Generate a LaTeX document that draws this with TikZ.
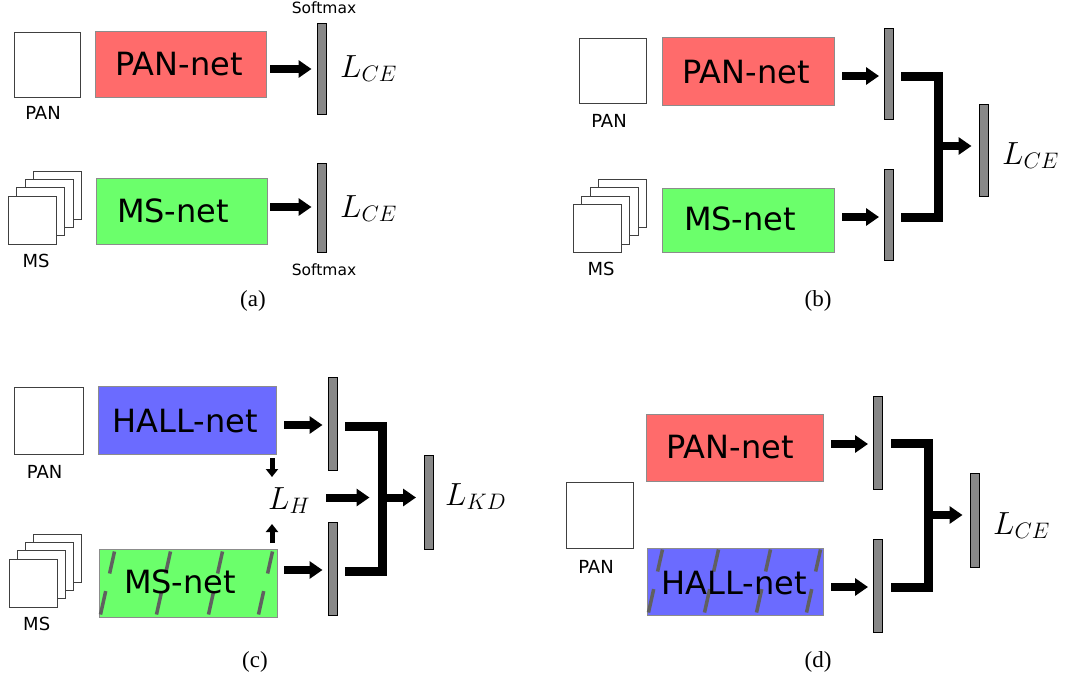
\RequirePackage{fix-cm}
\documentclass[tikz,border=0pt]{standalone}
\usepackage{fontspec}
\setmainfont{DejaVu Sans}
\newfontfamily\capfont{Liberation Serif}
\usetikzlibrary{arrows.meta}
\definecolor{pred}{HTML}{FF6B6B}
\definecolor{pgreen}{HTML}{6BFF6B}
\definecolor{pblue}{HTML}{6B6BFF}
\definecolor{boxborder}{HTML}{8C8C8C}
\definecolor{barfill}{HTML}{888888}
\definecolor{hatchcol}{HTML}{606060}
\tikzset{
  net/.style={rectangle, draw=boxborder, line width=1pt, inner sep=0pt},
  netlbl/.style={font=\fontsize{32}{38}\selectfont, inner sep=0pt},
  smalllbl/.style={font=\fontsize{18}{22}\selectfont, inner sep=0pt},
  softlbl/.style={font=\fontsize{15.5}{18}\selectfont, inner sep=0pt},
  mathlbl/.style={font=\fontsize{32}{38}\selectfont, inner sep=0pt, anchor=base west},
  barbox/.style={rectangle, draw=black, fill=barfill, line width=1pt, inner sep=0pt, minimum width=9pt},
  imgbox/.style={rectangle, draw=black!75, fill=white, line width=1pt, inner sep=0pt},
  fatarrow/.style={line width=8pt, -{Triangle[length=13pt,width=17pt]}},
  smallarrow/.style={line width=5pt, -{Triangle[length=8pt,width=12pt]}},
  joinline/.style={line width=9pt},
  hatchline/.style={draw=hatchcol, line width=3.5pt, dash pattern=on 24pt off 18pt},
  caplbl/.style={font=\capfont\fontsize{23}{27}\selectfont, inner sep=0pt}
}
\newcommand\msstack[3]{%
  \foreach \k in {3,2,1,0}{\node[imgbox, minimum width=48pt, minimum height=48pt] (#1-ms\k) at ({#2+8.3*\k},{#3-8.3*\k}) {};}}
\newcommand\hatchbox[1]{%
  \foreach \o in {2,58,110,160}{\draw[hatchline] ([xshift=\o pt, yshift=3pt]#1.south west) -- ++(14,-63);}}
\begin{document}
\begin{tikzpicture}[x=1pt,y=-1pt]
\useasboundingbox[fill=white] (0,0) rectangle (1070,678);

% ================= (a) =================
\node[imgbox, minimum width=66pt, minimum height=65pt] (a-pan) at (47,64.5) {};
\node[smalllbl] (a-panl) at (43,113) {PAN};
\node[net, fill=pred, minimum width=171pt, minimum height=66pt] (a-pannet) at (180.5,64) {};
\node[netlbl] (a-pannetl) at (179,64) {PAN-net};
\node[barbox, minimum height=91pt] (a-bar1) at (321.5,68.5) {};
\coordinate (a-s1) at (270,69);
\draw[fatarrow, shorten >=5pt] (a-s1) -- (a-s1 -| a-bar1.west);
\node[mathlbl] (a-l1) at (340,77) {$L_{CE}$};
\node[softlbl] (a-sm1) at (324,8) {Softmax};

\msstack{a}{32.5}{220}
\node[smalllbl] (a-msl) at (36,260.5) {MS};
\node[net, fill=pgreen, minimum width=171pt, minimum height=66pt] (a-msnet) at (181.5,211) {};
\node[netlbl] (a-msnetl) at (173,211) {MS-net};
\node[barbox, minimum height=89pt] (a-bar2) at (321.5,207.5) {};
\coordinate (a-s2) at (270,207);
\draw[fatarrow, shorten >=5pt] (a-s2) -- (a-s2 -| a-bar2.west);
\node[mathlbl] (a-l2) at (340,217) {$L_{CE}$};
\node[softlbl] (a-sm2) at (324,270) {Softmax};
\node[caplbl] (a-cap) at (253,301) {(a)};

% ================= (b) =================
\node[imgbox, minimum width=67pt, minimum height=65pt] (b-pan) at (612.5,70.5) {};
\node[smalllbl] (b-panl) at (609,121) {PAN};
\node[net, fill=pred, minimum width=172pt, minimum height=68pt] (b-pannet) at (748,71) {};
\node[netlbl] (b-pannetl) at (746,72.5) {PAN-net};
\node[barbox, minimum height=91pt] (b-bar1) at (889,73.5) {};
\coordinate (b-s1) at (842,76);
\draw[fatarrow, shorten >=5pt] (b-s1) -- (b-s1 -| b-bar1.west);

\msstack{b}{597.5}{228.5}
\node[smalllbl] (b-msl) at (601,268.5) {MS};
\node[net, fill=pgreen, minimum width=172pt, minimum height=64pt] (b-msnet) at (748,220) {};
\node[netlbl] (b-msnetl) at (740,218.5) {MS-net};
\node[barbox, minimum height=91pt] (b-bar2) at (889,214.5) {};
\coordinate (b-s2) at (842,217);
\draw[fatarrow, shorten >=5pt] (b-s2) -- (b-s2 -| b-bar2.west);

\node[barbox, minimum height=92pt] (b-bar3) at (983.5,150) {};
\coordinate (b-j1) at (901,76);
\coordinate (b-j2) at (901,217);
\coordinate (b-jx) at (938.5,146);
\draw[joinline] (b-j1) -| (b-jx) |- (b-j2);
\draw[fatarrow, shorten >=7pt] (b-jx) -- (b-jx -| b-bar3.west);
\node[mathlbl] (b-l) at (1002,164) {$L_{CE}$};
\node[caplbl] (b-cap) at (818,301) {(b)};

% ================= (c) =================
\node[imgbox, minimum width=69pt, minimum height=67pt] (c-pan) at (48.5,420.5) {};
\node[smalllbl] (c-panl) at (44.7,471.5) {PAN};
\node[net, fill=pblue, minimum width=178pt, minimum height=68pt] (c-hall) at (187,420) {};
\node[netlbl] (c-halll) at (185,421) {HALL-net};
\node[barbox, minimum height=93pt] (c-bar1) at (332.5,423.5) {};
\coordinate (c-s1) at (284,425);
\draw[fatarrow, shorten >=5pt] (c-s1) -- (c-s1 -| c-bar1.west);

\msstack{c}{33}{583}
\node[smalllbl] (c-msl) at (36.7,624) {MS};
\node[net, fill=pgreen, minimum width=178pt, minimum height=68pt] (c-msnet) at (188,583) {};
\hatchbox{c-msnet}
\node[netlbl] (c-msnetl) at (180,582) {MS-net};
\node[barbox, minimum height=93pt] (c-bar2) at (332.5,568.5) {};
\coordinate (c-s2) at (284,570);
\draw[fatarrow, shorten >=5pt] (c-s2) -- (c-s2 -| c-bar2.west);

\node[mathlbl] (c-lh) at (268,509) {$L_H$};
\coordinate (c-d1) at (272,458);
\coordinate (c-d2) at (272,477);
\draw[smallarrow] (c-d1) -- (c-d2);
\coordinate (c-u1) at (272,543);
\coordinate (c-u2) at (272,524);
\draw[smallarrow] (c-u1) -- (c-u2);

\node[barbox, minimum height=94pt] (c-bar3) at (429,502) {};
\coordinate (c-j1) at (345,426);
\coordinate (c-j2) at (345,571);
\coordinate (c-jx) at (382.5,497.5);
\draw[joinline] (c-j1) -| (c-jx) |- (c-j2);
\coordinate (c-ls) at (326,497.5);
\draw[fatarrow, shorten >=13pt] (c-ls) -- (c-jx);
\draw[fatarrow, shorten >=8pt] (c-jx) -- (c-jx -| c-bar3.west);
\node[mathlbl] (c-lkd) at (445,505) {$L_{KD}$};
\node[caplbl] (c-cap) at (255,662) {(c)};

% ================= (d) =================
\node[imgbox, minimum width=67pt, minimum height=66pt] (d-pan) at (599.5,515) {};
\node[smalllbl] (d-panl) at (596,566.5) {PAN};
\node[net, fill=pred, minimum width=177pt, minimum height=67pt] (d-pannet) at (734.5,447.5) {};
\node[netlbl] (d-pannetl) at (730,447) {PAN-net};
\node[barbox, minimum height=93pt] (d-bar1) at (878,442.5) {};
\coordinate (d-s1) at (831,444);
\draw[fatarrow, shorten >=5pt] (d-s1) -- (d-s1 -| d-bar1.west);

\node[net, fill=pblue, minimum width=176pt, minimum height=67pt] (d-hall) at (735,581.5) {};
\hatchbox{d-hall}
\node[netlbl] (d-halll) at (734,583) {HALL-net};
\node[barbox, minimum height=93pt] (d-bar2) at (878,585.5) {};
\coordinate (d-s2) at (831,587);
\draw[fatarrow, shorten >=5pt] (d-s2) -- (d-s2 -| d-bar2.west);

\node[barbox, minimum height=94pt] (d-bar3) at (974.5,520) {};
\coordinate (d-j1) at (891,443.5);
\coordinate (d-j2) at (891,587.5);
\coordinate (d-jx) at (928.5,515);
\draw[joinline] (d-j1) -| (d-jx) |- (d-j2);
\draw[fatarrow, shorten >=7pt] (d-jx) -- (d-jx -| d-bar3.west);
\node[mathlbl] (d-l) at (993,534) {$L_{CE}$};
\node[caplbl] (d-cap) at (818,662) {(d)};
\end{tikzpicture}
\end{document}
